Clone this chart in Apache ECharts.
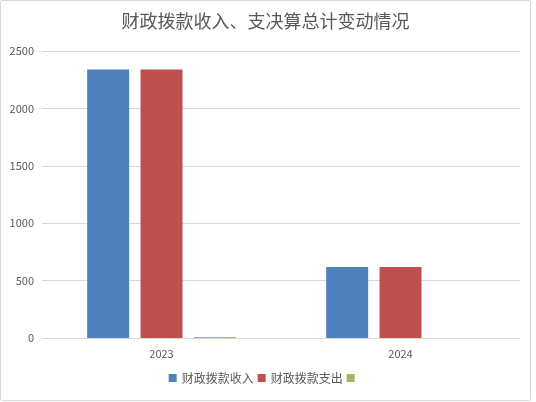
<!DOCTYPE html>
<html>
<head>
<meta charset="utf-8">
<script src="https://cdn.jsdelivr.net/npm/echarts@6/dist/echarts.min.js"></script>
<style>
  html, body { margin: 0; padding: 0; background: #fff; }
  #chart { width: 529px; height: 399px; border: 1px solid #d9d9d9; border-radius: 2px; }
</style>
</head>
<body>
<div id="chart"></div>
<script>
const years = ['2023', '2024'];
const income = [2338, 619];
const expense = [2338, 619];
const other = [9, 0];

var chart = echarts.init(document.getElementById('chart'));
const font = '"Noto Sans CJK SC", sans-serif';
option = {
  animation: false,
  title: {
    text: '财政拨款收入、支决算总计变动情况',
    left: 'center',
    top: 6,
    textStyle: { fontFamily: font, fontSize: 18, fontWeight: 'normal', color: '#595959' }
  },
  legend: {
    bottom: 11,
    itemWidth: 8,
    itemHeight: 8,
    itemGap: 4,
    icon: 'rect',
    textStyle: { fontFamily: font, fontSize: 12, color: '#595959' },
    data: ['财政拨款收入', '财政拨款支出', ' ']
  },
  grid: { top: 50, left: 41, right: 10, bottom: 62 },
  xAxis: {
    type: 'category',
    data: years,
    axisTick: { show: false },
    axisLine: { lineStyle: { color: '#d9d9d9' } },
    axisLabel: { fontFamily: font, fontSize: 11, color: '#595959', margin: 10 }
  },
  yAxis: {
    type: 'value',
    min: 0,
    max: 2500,
    interval: 500,
    axisLabel: { fontFamily: font, fontSize: 11, color: '#595959', margin: 8, formatter: function (v) { return String(v); } },
    splitLine: { lineStyle: { color: '#d9d9d9' } }
  },
  series: [
    { name: '财政拨款收入', type: 'bar', data: income, color: '#4f81bd', barWidth: 42, barGap: '27%' },
    { name: '财政拨款支出', type: 'bar', data: expense, color: '#c0504d', barWidth: 42, barGap: '27%' },
    { name: ' ', type: 'bar', data: other, color: '#9bbb59', barWidth: 42, barGap: '27%' }
  ]
};
chart.setOption(option);
</script>
</body>
</html>
